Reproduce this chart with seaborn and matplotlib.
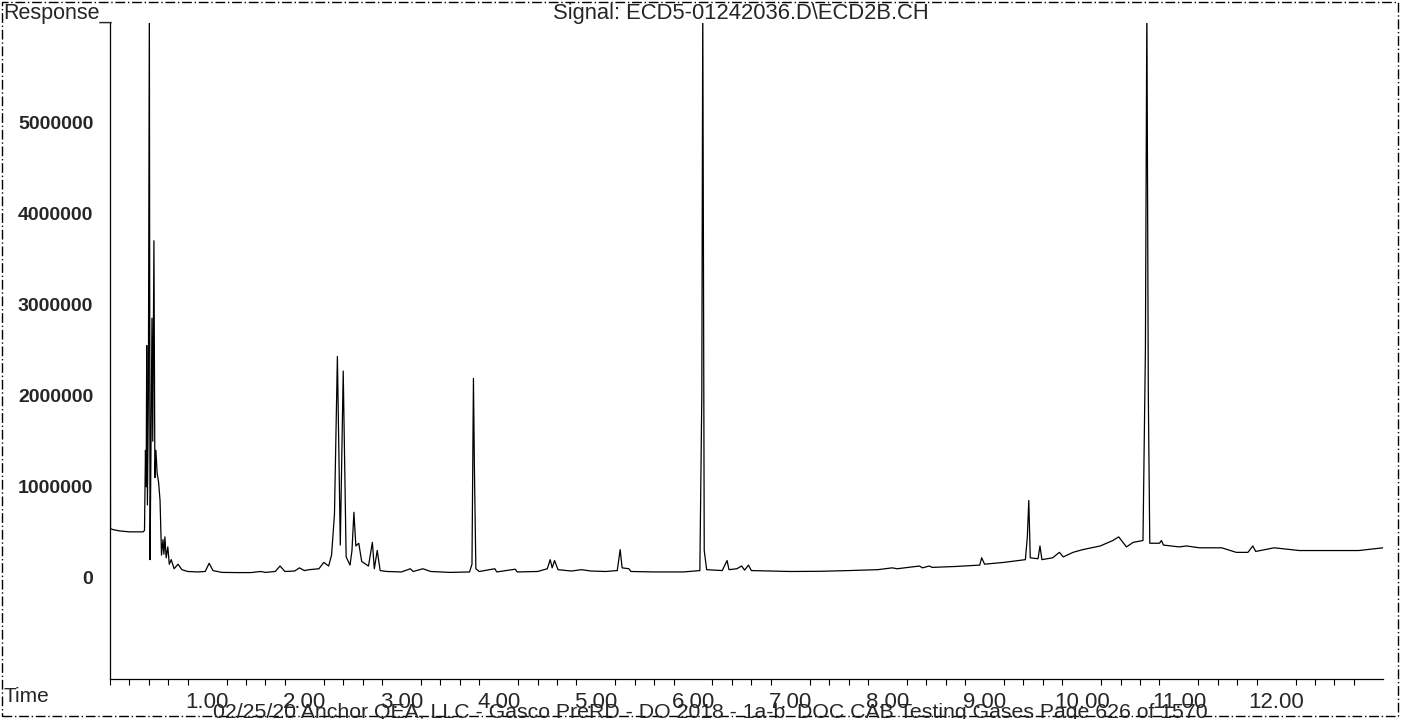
"""
Chromatogram - Signal: ECD5-01242036.D\\ECD2B.CH
"""

import matplotlib
matplotlib.use("Agg")
import matplotlib.pyplot as plt
from matplotlib.patches import Rectangle
from matplotlib.ticker import MultipleLocator
import pandas as pd
import seaborn as sns


# ============================================================
# Data
# ============================================================

time_min = [
    0.000, 0.005, 0.03, 0.10, 0.20, 0.34, 0.355, 0.365, 0.372, 0.378,
    0.385, 0.395, 0.405, 0.412, 0.420, 0.432, 0.440, 0.452, 0.462, 0.472,
    0.485, 0.50, 0.515, 0.53, 0.545, 0.555, 0.565, 0.578, 0.595, 0.61,
    0.63, 0.66, 0.70, 0.74, 0.80, 0.90, 0.98, 1.02, 1.06, 1.15,
    1.30, 1.45, 1.55, 1.60, 1.70, 1.75, 1.80, 1.90, 1.95, 2.00,
    2.05, 2.15, 2.20, 2.25, 2.28, 2.31, 2.34, 2.37, 2.40, 2.43,
    2.47, 2.49, 2.51, 2.53, 2.56, 2.59, 2.66, 2.70, 2.72, 2.75,
    2.78, 2.85, 3.00, 3.09, 3.12, 3.22, 3.30, 3.50, 3.70, 3.725,
    3.74, 3.75, 3.765, 3.80, 3.96, 3.98, 4.17, 4.19, 4.40, 4.50,
    4.53, 4.55, 4.575, 4.61, 4.75, 4.85, 4.95, 5.10, 5.22, 5.25,
    5.27, 5.34, 5.36, 5.60, 5.90, 6.07, 6.09, 6.10, 6.115, 6.14,
    6.30, 6.35, 6.37, 6.45, 6.50, 6.53, 6.57, 6.60, 6.80, 7.00,
    7.30, 7.60, 7.90, 8.05, 8.10, 8.33, 8.36, 8.43, 8.46, 8.70,
    8.95, 8.97, 9.00, 9.20, 9.42, 9.44, 9.455, 9.47, 9.55, 9.57,
    9.59, 9.70, 9.77, 9.81, 9.91, 10.01, 10.19, 10.32, 10.38, 10.46,
    10.53, 10.63, 10.655, 10.67, 10.685, 10.70, 10.80, 10.82, 10.84, 11.00,
    11.08, 11.21, 11.44, 11.59, 11.71, 11.76, 11.79, 11.98, 12.24, 12.58,
    12.85, 13.10,
]

response = [
    6300000, 540000, 530000, 515000, 505000, 505000, 520000, 1400000, 1000000, 2550000,
    800000, 2000000, 6300000, 200000, 1200000, 2850000, 1500000, 3700000, 1100000, 1400000,
    1150000, 1050000, 850000, 250000, 420000, 260000, 450000, 220000, 340000, 150000,
    200000, 100000, 150000, 90000, 70000, 65000, 70000, 160000, 80000, 60000,
    58000, 58000, 70000, 60000, 70000, 130000, 70000, 75000, 110000, 80000,
    90000, 100000, 170000, 130000, 250000, 700000, 2430000, 360000, 2270000, 230000,
    140000, 300000, 720000, 350000, 380000, 180000, 130000, 390000, 100000, 300000,
    80000, 70000, 65000, 100000, 70000, 100000, 70000, 60000, 65000, 150000,
    2190000, 1200000, 100000, 70000, 100000, 65000, 95000, 65000, 70000, 100000,
    200000, 110000, 190000, 90000, 75000, 90000, 75000, 70000, 80000, 310000,
    110000, 100000, 70000, 65000, 65000, 80000, 2000000, 6300000, 300000, 90000,
    80000, 190000, 90000, 100000, 130000, 85000, 140000, 80000, 75000, 70000,
    72000, 80000, 90000, 110000, 100000, 130000, 110000, 130000, 115000, 125000,
    140000, 220000, 150000, 170000, 200000, 450000, 850000, 220000, 210000, 350000,
    200000, 220000, 280000, 230000, 280000, 310000, 350000, 410000, 450000, 340000,
    390000, 410000, 2500000, 6300000, 2000000, 380000, 380000, 410000, 360000, 340000,
    350000, 330000, 330000, 280000, 280000, 350000, 290000, 330000, 300000, 300000,
    300000, 330000,
]

y_ticks = [0, 1000000, 2000000, 3000000, 4000000, 5000000]
y_tick_labels = ["0", "1000000", "2000000", "3000000", "4000000", "5000000"]

x_ticks = [1, 2, 3, 4, 5, 6, 7, 8, 9, 10, 11, 12, 13]
x_tick_labels = ["1.00", "2.00", "3.00", "4.00", "5.00", "6.00", "7.00",
                 "8.00", "9.00", "10.00", "11.00", "12.00", ""]

trace = pd.DataFrame({"Time": time_min, "Response": response})


# ============================================================
# Theme
# ============================================================

sns.set_theme(style="white")
plt.rcParams["font.family"] = ["Liberation Sans", "DejaVu Sans"]


# ============================================================
# Chromatogram
# ============================================================

fig = plt.figure(figsize=(14.05, 7.19), dpi=100)
ax = fig.add_axes([110 / 1405, 1 - 679 / 719, 1273 / 1405, 656 / 719])

sns.lineplot(
    data=trace,
    x="Time",
    y="Response",
    sort=False,
    estimator=None,
    color="black",
    linewidth=0.9,
    ax=ax,
)

ax.set_xlim(0, 13.1)
ax.set_ylim(-1110000, 6090000)

ax.set_xticks(x_ticks)
ax.set_xticklabels(x_tick_labels)
ax.xaxis.set_minor_locator(MultipleLocator(0.2))
ax.set_yticks(y_ticks)
ax.set_yticklabels(y_tick_labels)

ax.tick_params(axis="x", which="major", direction="out", length=9,
               width=0.9, color="black", labelsize=16, pad=0)
ax.tick_params(axis="x", which="minor", direction="out", length=4.5,
               width=0.8, color="black", bottom=True)
ax.tick_params(axis="y", length=0, labelsize=14, pad=12)

for label in ax.get_yticklabels():
    label.set_fontweight("bold")

ax.set_xlabel("")
ax.set_ylabel("")

sns.despine(ax=ax, top=True, right=True)
ax.spines["left"].set_color("black")
ax.spines["bottom"].set_color("black")
ax.spines["left"].set_linewidth(0.9)
ax.spines["bottom"].set_linewidth(0.9)

# header / footer texts
fig.text(741 / 1405, 1 - 13 / 719, "Signal: ECD5-01242036.D\\ECD2B.CH",
         ha="center", va="center", fontsize=15.8)
fig.text(3 / 1405, 1 - 13 / 719, "Response_",
         ha="left", va="center", fontsize=15.5)
fig.text(3 / 1405, 1 - 697 / 719, "Time",
         ha="left", va="center", fontsize=15)
fig.text(213 / 1405, 1 - 703 / 719,
         "02/25/20 Anchor QEA, LLC - Gasco PreRD - DO 2018 - 1a-b  DOC CAB Testing Gases Page 626 of 1570",
         ha="left", va="top", fontsize=15.3)

# scanned page border
fig.patches.append(Rectangle(
    (2 / 1405, 3 / 719), 1396 / 1405, 714 / 719,
    transform=fig.transFigure, fill=False,
    edgecolor="black", linewidth=1.0, linestyle=(0, (7, 2, 1, 2)),
))

fig.savefig("out.png", dpi=100)
plt.close(fig)
